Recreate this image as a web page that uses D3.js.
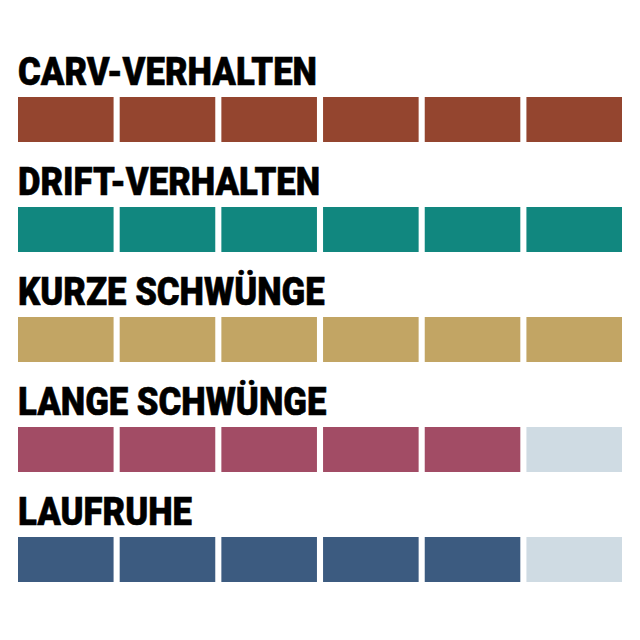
<!DOCTYPE html>
<html><head><meta charset="utf-8">
<script src="https://cdn.jsdelivr.net/npm/d3@7"></script>
<style>html,body{margin:0;padding:0;background:#fff;}</style>
</head><body>
<svg id="chart" width="640" height="640"></svg>
<script>
const categories = ["CARV-VERHALTEN", "DRIFT-VERHALTEN", "KURZE SCHWÜNGE", "LANGE SCHWÜNGE", "LAUFRUHE"];
const scores = [6, 6, 6, 5, 5];
const maxScore = 6;
const colors = ["#94452f", "#11877f", "#c2a564", "#a24c65", "#3c5b80"];
const emptyColor = "#cfdbe3";

const svg = d3.select("#chart");
svg.append("rect").attr("width", 640).attr("height", 640).attr("fill", "#fff");

const x = d3.scaleBand().domain(d3.range(maxScore)).range([18, 622]).paddingInner(0.06).paddingOuter(0);
const y = d3.scalePoint().domain(categories).range([97, 537]).padding(0);
const barH = 45;

const rows = svg.selectAll("g.row").data(categories).join("g").attr("class", "row")
  .attr("transform", d => `translate(0,${y(d)})`);

rows.append("text")
  .attr("x", 0).attr("y", 0)
  .attr("transform", "translate(18,-12) scale(0.89,1)")
  .attr("font-family", "Roboto, 'Open Sans', sans-serif")
  .attr("font-weight", 900)
  .attr("font-size", 39)
  .attr("stroke", "#000")
  .attr("stroke-width", 0.6)
  .attr("fill", "#000")
  .text(d => d);

rows.each(function(cat, i) {
  d3.select(this).selectAll("rect.seg").data(d3.range(maxScore)).join("rect")
    .attr("class", "seg")
    .attr("x", k => x(k))
    .attr("y", 0)
    .attr("width", x.bandwidth())
    .attr("height", barH)
    .attr("fill", k => k < scores[i] ? colors[i] : emptyColor);
});
</script>
</body></html>
